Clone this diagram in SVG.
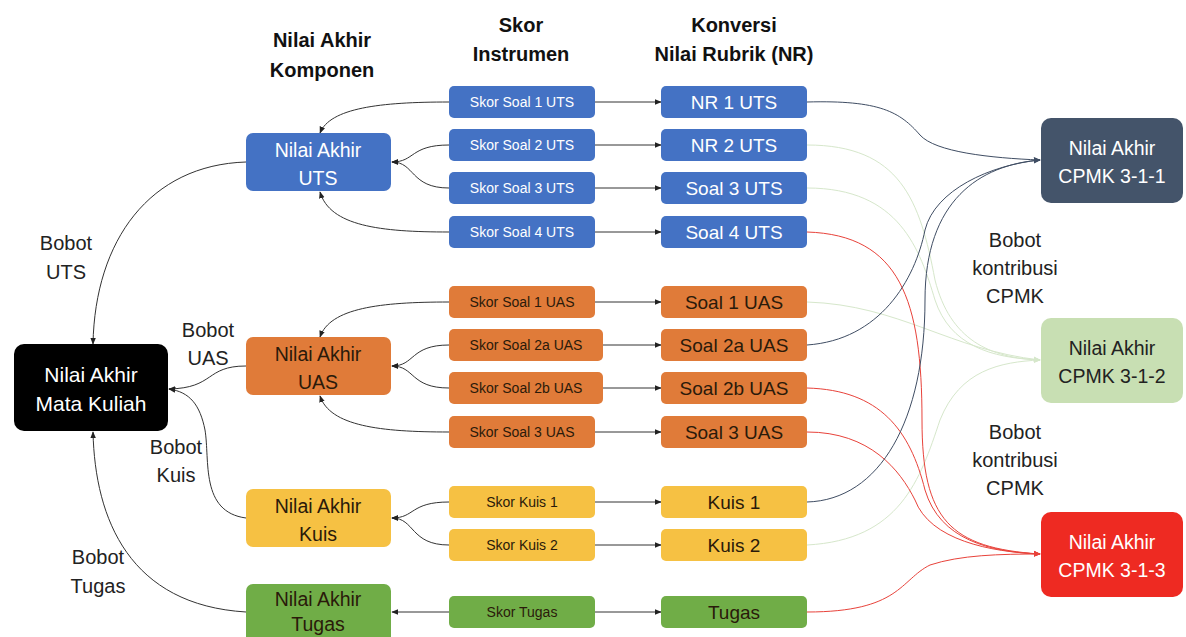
<svg xmlns="http://www.w3.org/2000/svg" width="1186" height="637" viewBox="0 0 1186 637">
<defs>
<style>
text{font-family:"Liberation Sans","Open Sans",Arial,sans-serif;text-anchor:middle}
.hd{font-size:20px;font-weight:bold;fill:#111}
.lb{font-size:20px;fill:#222}
.big{font-size:19.5px}
.sk{font-size:14px}
.nr{font-size:19px}
.w{fill:#fff}
.d{fill:#2a1a0a}
.c{fill:none;stroke-width:1}
.k{stroke:#333}
.nv{stroke:#3f4d63}
.lg{stroke:#d6e7cb}
.rd{stroke:#e8423a}
</style>
<marker id="a" viewBox="0 0 10 10" refX="9" refY="5" markerWidth="7" markerHeight="7" markerUnits="userSpaceOnUse" orient="auto"><path d="M0,1L10,5L0,9z" fill="#222"/></marker>
<marker id="an" viewBox="0 0 10 10" refX="9" refY="5" markerWidth="7" markerHeight="7" markerUnits="userSpaceOnUse" orient="auto"><path d="M0,1L10,5L0,9z" fill="#3f4d63"/></marker>
<marker id="ag" viewBox="0 0 10 10" refX="9" refY="5" markerWidth="7" markerHeight="7" markerUnits="userSpaceOnUse" orient="auto"><path d="M0,1L10,5L0,9z" fill="#d6e7cb"/></marker>
<marker id="ar" viewBox="0 0 10 10" refX="9" refY="5" markerWidth="7" markerHeight="7" markerUnits="userSpaceOnUse" orient="auto"><path d="M0,1L10,5L0,9z" fill="#e8423a"/></marker>
</defs>
<rect width="1186" height="637" fill="#fff"/>

<g id="headers">
<text class="hd" x="322" y="47">Nilai Akhir</text>
<text class="hd" x="322" y="77">Komponen</text>
<text class="hd" x="521" y="32">Skor</text>
<text class="hd" x="521" y="61">Instrumen</text>
<text class="hd" x="734" y="32">Konversi</text>
<text class="hd" x="734" y="61">Nilai Rubrik (NR)</text>
</g>

<g id="labels">
<text class="lb" x="66" y="250">Bobot</text>
<text class="lb" x="66" y="279">UTS</text>
<text class="lb" x="208" y="337">Bobot</text>
<text class="lb" x="208" y="365">UAS</text>
<text class="lb" x="176" y="454">Bobot</text>
<text class="lb" x="176" y="482">Kuis</text>
<text class="lb" x="98" y="564">Bobot</text>
<text class="lb" x="98" y="593">Tugas</text>
<text class="lb" x="1015" y="247">Bobot</text>
<text class="lb" x="1015" y="275">kontribusi</text>
<text class="lb" x="1015" y="303">CPMK</text>
<text class="lb" x="1015" y="439">Bobot</text>
<text class="lb" x="1015" y="467">kontribusi</text>
<text class="lb" x="1015" y="495">CPMK</text>
</g>

<g id="connectors">
<path class="c k" d="M595,102H661" marker-end="url(#a)"/>
<path class="c k" d="M595,145H661" marker-end="url(#a)"/>
<path class="c k" d="M595,188H661" marker-end="url(#a)"/>
<path class="c k" d="M595,232H661" marker-end="url(#a)"/>
<path class="c k" d="M595,302H661" marker-end="url(#a)"/>
<path class="c k" d="M603,345H661" marker-end="url(#a)"/>
<path class="c k" d="M603,388H661" marker-end="url(#a)"/>
<path class="c k" d="M595,432H661" marker-end="url(#a)"/>
<path class="c k" d="M595,502H661" marker-end="url(#a)"/>
<path class="c k" d="M595,545H661" marker-end="url(#a)"/>
<path class="c k" d="M595,612H661" marker-end="url(#a)"/>
<path class="c k" d="M449,102C380,102 330,108 320,133" marker-end="url(#a)"/>
<path class="c k" d="M449,145C410,145 415,162 392,162" marker-end="url(#a)"/>
<path class="c k" d="M449,188C410,188 415,162 392,162" marker-end="url(#a)"/>
<path class="c k" d="M449,232C380,232 330,226 320,192" marker-end="url(#a)"/>
<path class="c k" d="M449,302C380,302 330,308 320,337" marker-end="url(#a)"/>
<path class="c k" d="M449,345C410,345 415,366 392,366" marker-end="url(#a)"/>
<path class="c k" d="M449,388C410,388 415,366 392,366" marker-end="url(#a)"/>
<path class="c k" d="M449,432C380,432 330,426 320,396" marker-end="url(#a)"/>
<path class="c k" d="M449,502C410,502 415,518 392,518" marker-end="url(#a)"/>
<path class="c k" d="M449,545C410,545 415,518 392,518" marker-end="url(#a)"/>
<path class="c k" d="M449,612H392" marker-end="url(#a)"/>
<path class="c k" d="M246,162C150,165 95,240 93,344" marker-end="url(#a)"/>
<path class="c k" d="M246,366C205,366 215,388 169,389" marker-end="url(#a)"/>
<path class="c k" d="M246,518C200,512 210,460 205,430C200,405 190,392 169,389" marker-end="url(#a)"/>
<path class="c k" d="M246,612C130,605 95,520 93,432" marker-end="url(#a)"/>
<path class="c lg" d="M807,145C900,145 920,200 935,280C950,340 990,358 1040,360" marker-end="url(#ag)"/>
<path class="c lg" d="M807,188C900,188 920,250 935,300C950,345 990,358 1040,360" marker-end="url(#ag)"/>
<path class="c lg" d="M807,302C900,305 950,350 1040,360" marker-end="url(#ag)"/>
<path class="c lg" d="M807,545C900,540 920,480 940,420C960,370 1000,362 1040,360" marker-end="url(#ag)"/>
<path class="c rd" d="M807,232C900,235 922,300 922,420C922,520 950,548 1040,554" marker-end="url(#ar)"/>
<path class="c rd" d="M807,388C880,390 910,430 925,490C940,540 990,552 1040,554" marker-end="url(#ar)"/>
<path class="c rd" d="M807,432C870,432 900,470 915,500C930,540 990,552 1040,554" marker-end="url(#ar)"/>
<path class="c rd" d="M807,612C900,612 900,580 930,565C960,555 1000,554 1040,554" marker-end="url(#ar)"/>
<path class="c nv" d="M807,102C880,100 900,112 920,135C935,152 990,158 1040,160" marker-end="url(#an)"/>
<path class="c nv" d="M807,345C880,340 915,280 925,230C935,190 990,165 1040,160" marker-end="url(#an)"/>
<path class="c nv" d="M807,502C880,500 925,420 925,300C925,200 980,165 1040,160" marker-end="url(#an)"/>
</g>

<g id="n-mk"><rect x="14" y="344" width="154" height="87" rx="10" fill="#000"/>
<text class="big w" x="91" y="382" style="font-size:21px">Nilai Akhir</text><text class="big w" x="91" y="411" style="font-size:21px">Mata Kuliah</text></g>

<g id="n-uts"><rect x="246" y="133" width="145" height="58" rx="7" fill="#4472c4"/>
<text class="big w" x="318" y="157">Nilai Akhir</text><text class="big w" x="318" y="185">UTS</text></g>
<g id="n-uas"><rect x="246" y="337" width="145" height="58" rx="7" fill="#e07b39"/>
<text class="big d" x="318" y="361">Nilai Akhir</text><text class="big d" x="318" y="389">UAS</text></g>
<g id="n-kuis"><rect x="246" y="489" width="145" height="58" rx="7" fill="#f6c143"/>
<text class="big d" x="318" y="513">Nilai Akhir</text><text class="big d" x="318" y="541">Kuis</text></g>
<g id="n-tugas"><rect x="246" y="584" width="145" height="60" rx="7" fill="#70ad47"/>
<text class="big d" x="318" y="606">Nilai Akhir</text><text class="big d" x="318" y="631">Tugas</text></g>

<g id="s-uts1"><rect x="449" y="86" width="146" height="32" rx="5" fill="#4472c4"/><text class="sk w" x="522" y="107">Skor Soal 1 UTS</text></g>
<g id="s-uts2"><rect x="449" y="129" width="146" height="32" rx="5" fill="#4472c4"/><text class="sk w" x="522" y="150">Skor Soal 2 UTS</text></g>
<g id="s-uts3"><rect x="449" y="172" width="146" height="32" rx="5" fill="#4472c4"/><text class="sk w" x="522" y="193">Skor Soal 3 UTS</text></g>
<g id="s-uts4"><rect x="449" y="216" width="146" height="32" rx="5" fill="#4472c4"/><text class="sk w" x="522" y="237">Skor Soal 4 UTS</text></g>
<g id="s-uas1"><rect x="449" y="286" width="146" height="32" rx="5" fill="#e07b39"/><text class="sk d" x="522" y="307">Skor Soal 1 UAS</text></g>
<g id="s-uas2a"><rect x="449" y="329" width="154" height="32" rx="5" fill="#e07b39"/><text class="sk d" x="526" y="350">Skor Soal 2a UAS</text></g>
<g id="s-uas2b"><rect x="449" y="372" width="154" height="32" rx="5" fill="#e07b39"/><text class="sk d" x="526" y="393">Skor Soal 2b UAS</text></g>
<g id="s-uas3"><rect x="449" y="416" width="146" height="32" rx="5" fill="#e07b39"/><text class="sk d" x="522" y="437">Skor Soal 3 UAS</text></g>
<g id="s-k1"><rect x="449" y="486" width="146" height="32" rx="5" fill="#f6c143"/><text class="sk d" x="522" y="507">Skor Kuis 1</text></g>
<g id="s-k2"><rect x="449" y="529" width="146" height="32" rx="5" fill="#f6c143"/><text class="sk d" x="522" y="550">Skor Kuis 2</text></g>
<g id="s-t"><rect x="449" y="596" width="146" height="32" rx="5" fill="#70ad47"/><text class="sk d" x="522" y="617">Skor Tugas</text></g>

<g id="r-uts1"><rect x="661" y="86" width="146" height="32" rx="5" fill="#4472c4"/><text class="nr w" x="734" y="109">NR 1 UTS</text></g>
<g id="r-uts2"><rect x="661" y="129" width="146" height="32" rx="5" fill="#4472c4"/><text class="nr w" x="734" y="152">NR 2 UTS</text></g>
<g id="r-uts3"><rect x="661" y="172" width="146" height="32" rx="5" fill="#4472c4"/><text class="nr w" x="734" y="195">Soal 3 UTS</text></g>
<g id="r-uts4"><rect x="661" y="216" width="146" height="32" rx="5" fill="#4472c4"/><text class="nr w" x="734" y="239">Soal 4 UTS</text></g>
<g id="r-uas1"><rect x="661" y="286" width="146" height="32" rx="5" fill="#e07b39"/><text class="nr d" x="734" y="309">Soal 1 UAS</text></g>
<g id="r-uas2a"><rect x="661" y="329" width="146" height="32" rx="5" fill="#e07b39"/><text class="nr d" x="734" y="352">Soal 2a UAS</text></g>
<g id="r-uas2b"><rect x="661" y="372" width="146" height="32" rx="5" fill="#e07b39"/><text class="nr d" x="734" y="395">Soal 2b UAS</text></g>
<g id="r-uas3"><rect x="661" y="416" width="146" height="32" rx="5" fill="#e07b39"/><text class="nr d" x="734" y="439">Soal 3 UAS</text></g>
<g id="r-k1"><rect x="661" y="486" width="146" height="32" rx="5" fill="#f6c143"/><text class="nr d" x="734" y="509">Kuis 1</text></g>
<g id="r-k2"><rect x="661" y="529" width="146" height="32" rx="5" fill="#f6c143"/><text class="nr d" x="734" y="552">Kuis 2</text></g>
<g id="r-t"><rect x="661" y="596" width="146" height="32" rx="5" fill="#70ad47"/><text class="nr d" x="734" y="619">Tugas</text></g>

<g id="c-311"><rect x="1041" y="118" width="142" height="85" rx="10" fill="#44546a"/>
<text class="big w" x="1112" y="155">Nilai Akhir</text><text class="big w" x="1112" y="183">CPMK 3-1-1</text></g>
<g id="c-312"><rect x="1041" y="318" width="142" height="85" rx="10" fill="#c8dfb3"/>
<text class="big" fill="#222" x="1112" y="355">Nilai Akhir</text><text class="big" fill="#222" x="1112" y="383">CPMK 3-1-2</text></g>
<g id="c-313"><rect x="1041" y="512" width="142" height="85" rx="10" fill="#ee2a22"/>
<text class="big w" x="1112" y="549">Nilai Akhir</text><text class="big w" x="1112" y="577">CPMK 3-1-3</text></g>
</svg>
